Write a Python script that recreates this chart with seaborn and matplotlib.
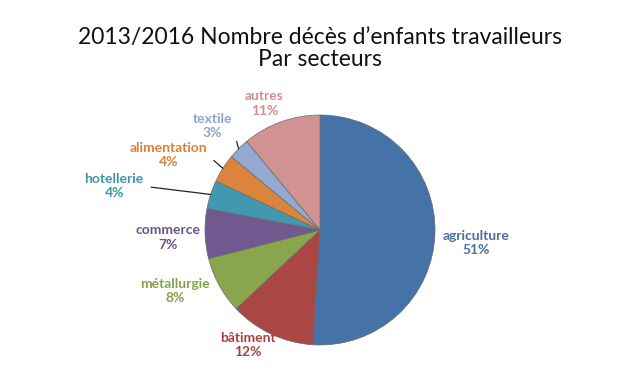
import numpy as np
import seaborn as sns
import matplotlib
matplotlib.use("Agg")
import matplotlib.pyplot as plt

# données
secteurs = ["agriculture", "bâtiment", "métallurgie", "commerce",
            "hotellerie", "alimentation", "textile", "autres"]
pourcentages = [51, 12, 8, 7, 4, 4, 3, 11]
couleurs = ["#4572A7", "#AA4643", "#89A54E", "#71588F",
            "#4198AF", "#DB843D", "#93A9CF", "#D19392"]
couleurs_texte = ["#4A6FA0", "#A8403E", "#86A24B", "#6B548C",
                  "#3F94AA", "#D9813A", "#8EA4CC", "#D08E8D"]

# placement des étiquettes (rayon, décalage d'angle en degrés, trait de rappel)
rayons = [1.36, 1.18, 1.37, 1.32, 1.83, 1.47, 1.30, 1.20]
decalages = [-3, -7, -6, 1, 6, 6, 1, 4]
traits = [False, False, False, False, True, True, True, False]

sns.set_theme(style="white")
plt.rcParams["font.family"] = ["Lato", "DejaVu Sans"]
palette = sns.color_palette(couleurs)

fig = plt.figure(figsize=(6.4, 3.81), dpi=100)
ax = fig.add_axes([0, 0, 1, 1])

wedges, _ = ax.pie(pourcentages, colors=palette, startangle=90,
                   counterclock=False, radius=1,
                   wedgeprops=dict(linewidth=0.5, edgecolor="#6a6a6a"))

for w, nom, p, c, r, d, t in zip(wedges, secteurs, pourcentages,
                                 couleurs_texte, rayons, decalages, traits):
    mid = np.deg2rad((w.theta1 + w.theta2) / 2)
    ang = mid + np.deg2rad(d)
    xt, yt = r * np.cos(ang), r * np.sin(ang)
    label = f"{nom}\n{p}%"
    if t:
        ax.annotate(label, xy=(np.cos(mid), np.sin(mid)), xytext=(xt, yt),
                    ha="center", va="center", color=c, fontsize=10,
                    fontweight="bold", linespacing=1.25,
                    arrowprops=dict(arrowstyle="-", color="#222222", lw=0.9,
                                    relpos=(1, 0.5), shrinkA=3, shrinkB=0))
    else:
        ax.text(xt, yt, label, ha="center", va="center", color=c,
                fontsize=10, fontweight="bold", linespacing=1.25)

ax.set_xlim(-320 / 115, 320 / 115)
ax.set_ylim(-151 / 115, 230 / 115)
ax.set_aspect("equal")
ax.axis("off")

fig.text(0.5, 1 - 48.5 / 381, "2013/2016 Nombre décès d’enfants travailleurs\nPar secteurs",
         ha="center", va="center", fontsize=16.5, color="#111111", linespacing=1.02)

fig.savefig("out.png", dpi=100, facecolor="white")
